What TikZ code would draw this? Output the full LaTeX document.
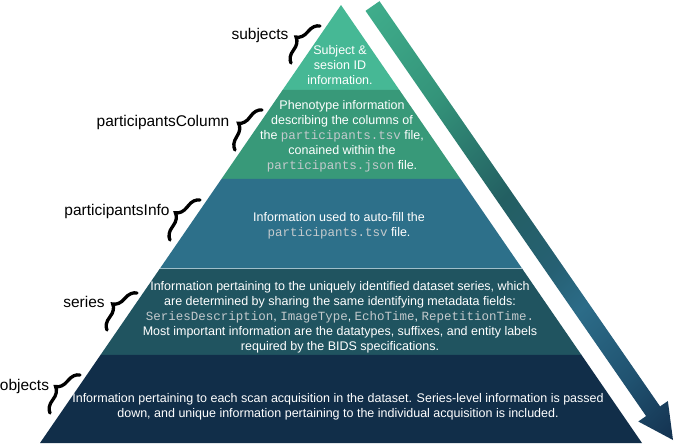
\documentclass[tikz,border=0pt]{standalone}
\usepackage{fontspec}
\setmainfont{Liberation Sans}
\setmonofont{Liberation Mono}
\usetikzlibrary{calc,decorations.pathreplacing}
\definecolor{layerA}{RGB}{70,184,149}
\definecolor{layerB}{RGB}{56,153,121}
\definecolor{layerC}{RGB}{45,112,138}
\definecolor{layerD}{RGB}{32,84,96}
\definecolor{layerE}{RGB}{17,46,73}
\definecolor{codegray}{RGB}{196,202,205}
\definecolor{arA}{RGB}{64,174,140}
\definecolor{arB}{RGB}{52,148,122}
\definecolor{arC}{RGB}{35,95,98}
\definecolor{arD}{RGB}{38,96,115}
\definecolor{arE}{RGB}{44,108,136}
\definecolor{arF}{RGB}{32,82,112}
\definecolor{arG}{RGB}{20,50,80}
\pgfdeclareverticalshading{arrowshade}{100bp}{color(0bp)=(arG); color(14.6bp)=(arG); color(24.4bp)=(arF); color(35.7bp)=(arE); color(42.2bp)=(arD); color(53.6bp)=(arC); color(69.8bp)=(arB); color(85.4bp)=(arA); color(100bp)=(arA)}
\newcommand{\monotext}[1]{{\ttfamily\color{codegray}#1}}
\begin{document}
\begin{tikzpicture}[x=1pt,y=-1pt,
  layertext/.style={text=white, align=center, font=\fontsize{12.5}{15}\selectfont, inner sep=0pt},
  tierlabel/.style={text=black, font=\fontsize{15.5}{18}\selectfont, inner sep=0pt},
  tierbrace/.style={decorate, decoration={brace, amplitude=12pt}, line width=3.3pt, line cap=round}]
\useasboundingbox (0,0) rectangle (675,445);
% pyramid geometry
\coordinate (apex) at (341,5);
\coordinate (baseL) at (40,443);
\coordinate (baseR) at (642,443);
\coordinate (l1) at ($(apex)!0.194!(baseL)$);
\coordinate (r1) at ($(apex)!0.194!(baseR)$);
\coordinate (l2) at ($(apex)!0.397!(baseL)$);
\coordinate (r2) at ($(apex)!0.397!(baseR)$);
\coordinate (l3) at ($(apex)!0.6005!(baseL)$);
\coordinate (r3) at ($(apex)!0.6005!(baseR)$);
\coordinate (l4) at ($(apex)!0.799!(baseL)$);
\coordinate (r4) at ($(apex)!0.799!(baseR)$);
\fill[layerA] (apex) -- (r1) -- (l1) -- cycle;
\fill[layerB] (l1) -- (r1) -- (r2) -- (l2) -- cycle;
\fill[layerC] (l2) -- (r2) -- (r3) -- (l3) -- cycle;
\fill[layerD] (l3) -- (r3) -- (r4) -- (l4) -- cycle;
\fill[layerE] (l4) -- (r4) -- (baseR) -- (baseL) -- cycle;
\draw[white!55!layerC, line width=0.7pt] (l3) -- (r3);
% arrow
\coordinate (arS) at (372.5,6);
\coordinate (arT) at (673,440);
\coordinate (arH) at ($(arT)!35pt!(arS)$);
\shade[shading=arrowshade, shading angle=45]
  ($(arS)!8.5pt!-90:(arT)$) -- ($(arS)!8.5pt!90:(arT)$) -- ($(arH)!8.5pt!-90:(arS)$)
  -- ($(arH)!18pt!-90:(arS)$) -- (arT) -- ($(arH)!18pt!90:(arS)$) -- ($(arH)!8.5pt!90:(arS)$) -- cycle;
% layer texts
\node[layertext] (tA) at (340,65) {Subject \&\\sesion ID\\information.};
\node[layertext] (tB) at (342,136.5) {Phenotype information\\describing the columns of\\the \monotext{participants.tsv} file,\\conained within the\\\monotext{participants.json} file.};
\node[layertext] (tC) at (339,225.5) {Information used to auto-fill the\\\monotext{participants.tsv} file.};
\node[layertext] (tD) at (340,317) {Information pertaining to the uniquely identified dataset series, which\\are determined by sharing the same identifying metadata fields:\\\monotext{SeriesDescription}, \monotext{ImageType}, \monotext{EchoTime}, \monotext{RepetitionTime.}\\Most important information are the datatypes, suffixes, and entity labels\\required by the BIDS specifications.};
\node[layertext] (tE) at (338,407) {Information pertaining to each scan acquisition in the dataset. Series-level information is passed\\down, and unique information pertaining to the individual acquisition is included.};
% labels
\node[tierlabel] (labA) at (260,35) {subjects};
\node[tierlabel] (labB) at (163,122) {participantsColumn};
\node[tierlabel] (labC) at (117,211) {participantsInfo};
\node[tierlabel] (labD) at (84,302) {series};
\node[tierlabel] (labE) at (24.5,386) {objects};
% braces
\coordinate (bA1) at (291,63);  \coordinate (bA2) at (320,26);
\coordinate (bB1) at (235,150); \coordinate (bB2) at (262,110);
\coordinate (bC1) at (170,240); \coordinate (bC2) at (200,200);
\coordinate (bD1) at (107,330); \coordinate (bD2) at (137,293);
\coordinate (bE1) at (50,413);  \coordinate (bE2) at (80,375);
\draw[tierbrace] (bA1) -- (bA2);
\draw[tierbrace] (bB1) -- (bB2);
\draw[tierbrace] (bC1) -- (bC2);
\draw[tierbrace] (bD1) -- (bD2);
\draw[tierbrace] (bE1) -- (bE2);
\end{tikzpicture}
\end{document}
